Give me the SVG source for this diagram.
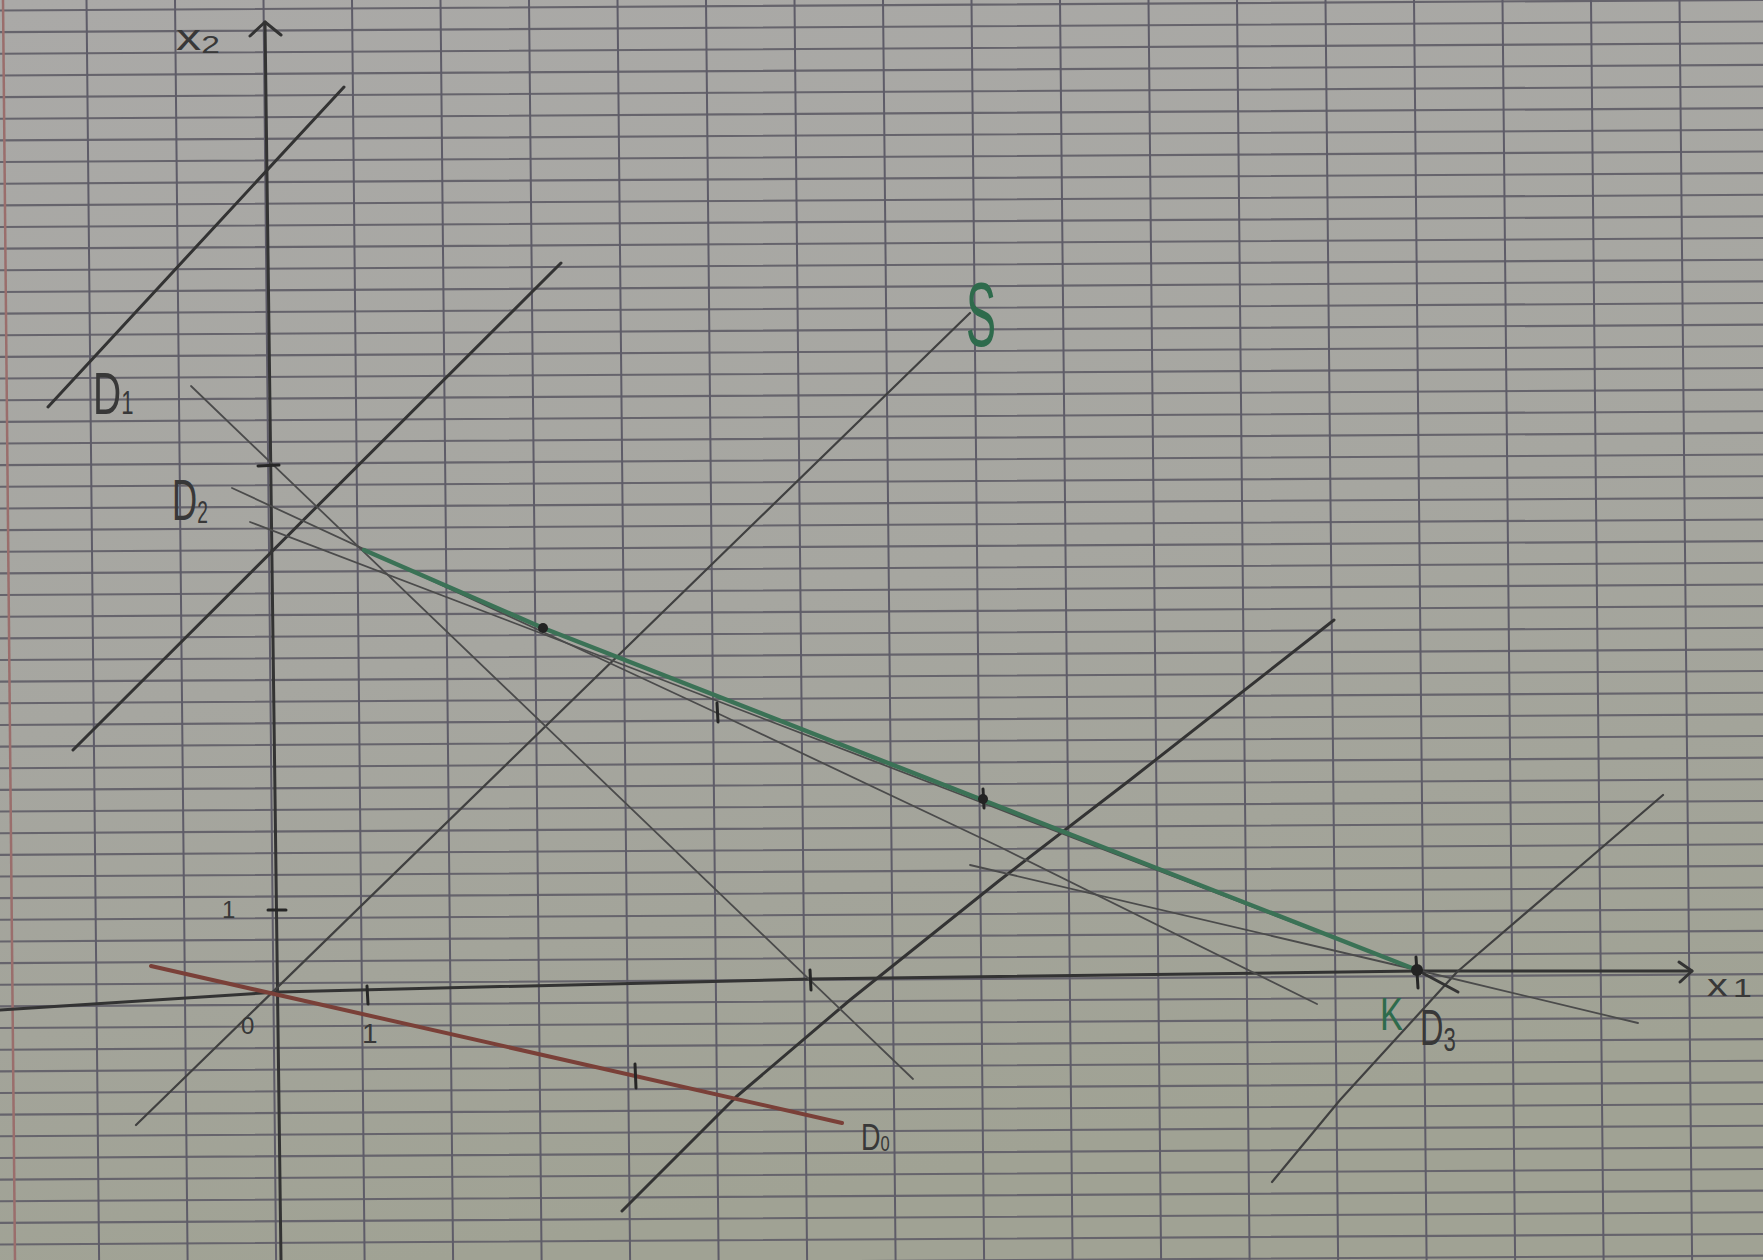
<svg xmlns="http://www.w3.org/2000/svg" width="1763" height="1260" viewBox="0 0 1763 1260">
<defs>
<linearGradient id="paper" x1="0" y1="0" x2="0.25" y2="1">
<stop offset="0" stop-color="#aaa9a7"/>
<stop offset="0.55" stop-color="#a6a6a0"/>
<stop offset="1" stop-color="#a0a294"/>
</linearGradient>
</defs>
<style>
.hgrid{fill:none;stroke:#66646c;stroke-width:2.1}
.vgrid{fill:none;stroke:#5e5c68;stroke-width:2}
.margin{fill:none;stroke:#9a6e6c;stroke-width:2.5}
.pencil{fill:none;stroke:#333333;stroke-width:3;stroke-linecap:round;stroke-linejoin:round}
.mid{fill:none;stroke:#404040;stroke-width:2.2;stroke-linecap:round;stroke-linejoin:round}
.thin{fill:none;stroke:#4b4b4b;stroke-width:1.8;stroke-linecap:round;stroke-linejoin:round}
.axis{fill:none;stroke:#333333;stroke-width:3;stroke-linecap:round;stroke-linejoin:round}
.green{fill:none;stroke:#3b7256;stroke-width:4.4;stroke-linecap:round;stroke-linejoin:round}
.red{fill:none;stroke:#7a4038;stroke-width:4;stroke-linecap:round}
.tick{fill:none;stroke:#262626;stroke-width:3;stroke-linecap:round}
.dot{fill:#232323}
.lbl{font-family:"Liberation Sans",Arial,sans-serif;fill:#383838}
.glbl{font-family:"Liberation Sans",Arial,sans-serif;fill:#2e6b4c}
</style>
<g id="paper-sheet">
<rect x="0" y="0" width="1763" height="1260" fill="url(#paper)"/>
<path class="hgrid" d="M0 10.5 l1763 -10.6 m-1763 32.25 l1763 -10.6 m-1763 32.25 l1763 -10.6 m-1763 32.25 l1763 -10.6 m-1763 32.25 l1763 -10.6 m-1763 32.25 l1763 -10.6 m-1763 32.25 l1763 -10.6 m-1763 32.25 l1763 -10.6 m-1763 32.25 l1763 -10.6 m-1763 32.25 l1763 -10.6 m-1763 32.25 l1763 -10.6 m-1763 32.25 l1763 -10.6 m-1763 32.25 l1763 -10.6 m-1763 32.25 l1763 -10.6 m-1763 32.25 l1763 -10.6 m-1763 32.25 l1763 -10.6 m-1763 32.25 l1763 -10.6 m-1763 32.25 l1763 -10.6 m-1763 32.25 l1763 -10.6 m-1763 32.25 l1763 -10.6 m-1763 32.25 l1763 -10.6 m-1763 32.25 l1763 -10.6 m-1763 32.25 l1763 -10.6 m-1763 32.25 l1763 -10.6 m-1763 32.25 l1763 -10.6 m-1763 32.25 l1763 -10.6 m-1763 32.25 l1763 -10.6 m-1763 32.25 l1763 -10.6 m-1763 32.25 l1763 -10.6 m-1763 32.25 l1763 -10.6 m-1763 32.25 l1763 -10.6 m-1763 32.25 l1763 -10.6 m-1763 32.25 l1763 -10.6 m-1763 32.25 l1763 -10.6 m-1763 32.25 l1763 -10.6 m-1763 32.25 l1763 -10.6 m-1763 32.25 l1763 -10.6 m-1763 32.25 l1763 -10.6 m-1763 32.25 l1763 -10.6 m-1763 32.25 l1763 -10.6 m-1763 32.25 l1763 -10.6 m-1763 32.25 l1763 -10.6 m-1763 32.25 l1763 -10.6 m-1763 32.25 l1763 -10.6 m-1763 32.25 l1763 -10.6 m-1763 32.25 l1763 -10.6 m-1763 32.25 l1763 -10.6 m-1763 32.25 l1763 -10.6 m-1763 32.25 l1763 -10.6 m-1763 32.25 l1763 -10.6 m-1763 32.25 l1763 -10.6 m-1763 32.25 l1763 -10.6 m-1763 32.25 l1763 -10.6 m-1763 32.25 l1763 -10.6 m-1763 32.25 l1763 -10.6 m-1763 32.25 l1763 -10.6 m-1763 32.25 l1763 -10.6 m-1763 32.25 l1763 -10.6 m-1763 32.25 l1763 -10.6"/>
<path class="vgrid" d="M86.5 0 l12.6 1260 m75.9 -1260 l12.6 1260 m75.9 -1260 l12.6 1260 m75.9 -1260 l12.6 1260 m75.9 -1260 l12.6 1260 m75.9 -1260 l12.6 1260 m75.9 -1260 l12.6 1260 m75.9 -1260 l12.6 1260 m75.9 -1260 l12.6 1260 m75.9 -1260 l12.6 1260 m75.9 -1260 l12.6 1260 m75.9 -1260 l12.6 1260 m75.9 -1260 l12.6 1260 m75.9 -1260 l12.6 1260 m75.9 -1260 l12.6 1260 m75.9 -1260 l12.6 1260 m75.9 -1260 l12.6 1260 m75.9 -1260 l12.6 1260 m75.9 -1260 l12.6 1260"/>
<path class="margin" d="M3 0 L15 1260"/>
</g>
<g id="axes">
<path class="axis" d="M281 1260 L265 22"/>
<path class="axis" d="M250 36 L265 22 L281 35"/>
<path class="axis" d="M0 1010 L279 992 L810 979 L1417 971 L1692 971"/>
<path class="axis" d="M1679 962 L1692 971 L1680 982"/>
</g>
<g id="connectors">
<path id="D1" class="pencil" d="M48 407 L344 87"/>
<path id="line-parallel-1" class="pencil" d="M73 750 L561 263"/>
<path id="line-S" class="mid" d="M136 1125 L970 313"/>
<path id="line-parallel-2" class="pencil" d="M622 1211 L736 1097 L850 1000 L1000 880 L1130 780 L1334 620"/>
<path id="D3" class="mid" d="M1272 1182 L1340 1100 L1457 972 L1663 795"/>
<path id="line-desc" class="thin" d="M191 386 L913 1079"/>
<path id="D2-a" class="thin" d="M232 488 L543 632 L717 713 L1000 847 L1317 1004"/>
<path id="D2-b" class="thin" stroke="#5a5a5a" d="M250 522 L543 634 L983 803 L1417 970"/>
<path id="line-E" class="thin" d="M970 865 L1417 970 L1638 1023"/>
<path id="green-path" class="green" d="M364 550 L543 628 L1417 970"/>
<path class="pencil" d="M1417 970 L1458 992"/>
<path id="D0" class="red" d="M151 966 L842 1123"/>
</g>
<g id="ticks">
<path class="tick" d="M268 910 L286 910"/>
<path class="tick" d="M258 466 L279 465"/>
<path class="tick" d="M367 986 L368 1004"/>
<path class="tick" d="M810 970 L811 990"/>
<path class="tick" d="M635 1064 L636 1088"/>
<path class="tick" d="M717 703 L718 722"/>
<path class="tick" d="M983 789 L984 808"/>
<path class="tick" d="M1416 957 L1418 988"/>
<circle class="dot" cx="543" cy="628" r="5"/>
<circle class="dot" cx="983" cy="799" r="5"/>
<circle class="dot" cx="1417" cy="970" r="6"/>
</g>
<g id="labels">
<text class="lbl" font-size="36" transform="translate(176,50) scale(1.4,1)">x<tspan font-size="24" dy="3">2</tspan></text>
<text class="lbl" font-size="32" transform="translate(1707,996) scale(1.3,1)">x<tspan font-size="26" dx="4" dy="1">1</tspan></text>
<text class="lbl" font-size="24" x="222" y="918">1</text>
<text class="lbl" font-size="28" x="362" y="1043">1</text>
<text class="lbl" font-size="24" x="241" y="1034">0</text>
<text class="lbl" font-size="36" transform="translate(861,1150) scale(0.75,1)">D<tspan font-size="22" dy="1">0</tspan></text>
<text class="lbl" font-size="60" transform="translate(93,414) scale(0.65,1)">D<tspan font-size="34" dy="0">1</tspan></text>
<text class="lbl" font-size="58" transform="translate(172,520) scale(0.6,1)">D<tspan font-size="32" dy="3">2</tspan></text>
<text class="lbl" font-size="50" transform="translate(1420,1045) scale(0.65,1)">D<tspan font-size="34" dy="6">3</tspan></text>
<text class="glbl" font-size="90" transform="translate(966,346) scale(0.5,1)">S</text>
<text class="glbl" font-size="46" transform="translate(1380,1030) scale(0.75,1)">K</text>
</g>
</svg>
